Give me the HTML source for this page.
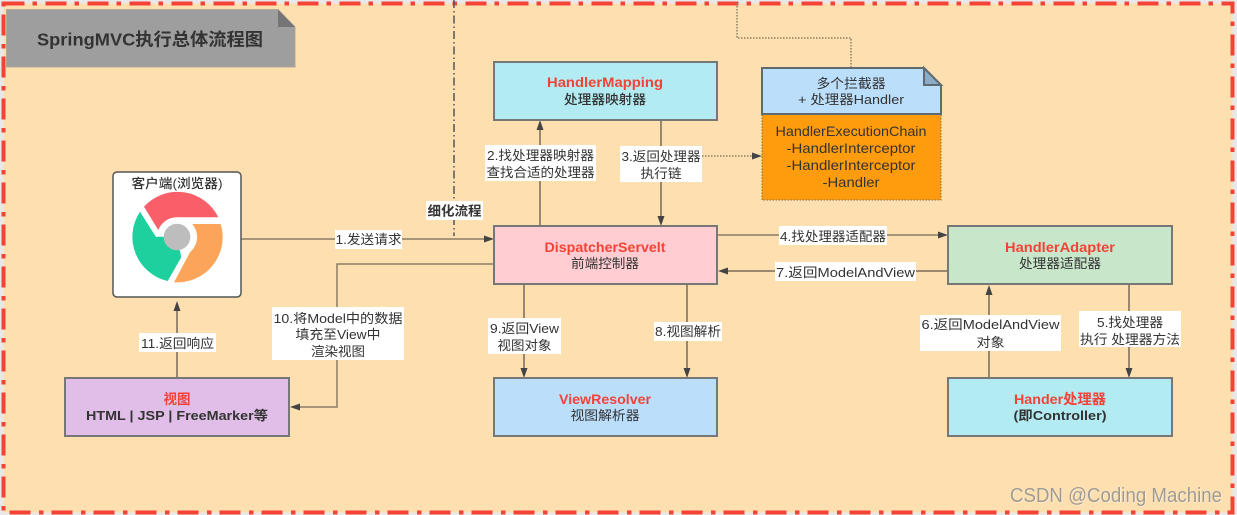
<!DOCTYPE html>
<html><head><meta charset="utf-8">
<style>
html,body{margin:0;padding:0;background:#e8e8e8;width:1237px;height:515px;overflow:hidden}
svg{display:block}
text{font-family:"Liberation Sans","Noto Sans CJK SC",sans-serif;font-size:13.3px;fill:#333;text-anchor:middle}
.b{font-weight:bold}
.r{fill:#f44336;font-weight:bold;font-size:14px}
.box{stroke:#777;stroke-width:2}
.c{stroke:#8c7d66;stroke-width:1.8;fill:none}
.bg{fill:#fff}
.a{fill:#444}
</style></head><body>
<svg width="1237" height="515" viewBox="0 0 1237 515" xmlns="http://www.w3.org/2000/svg">
<rect x="3.5" y="3.5" width="1229" height="509" fill="#fddfb0"/>
<rect x="3.5" y="3.5" width="1229" height="509" fill="none" stroke="#f44336" stroke-width="4" stroke-dasharray="21 8 4.5 8.5"/>

<!-- title note -->
<path d="M6.5,9.5H278L295,27V67H6.5Z" fill="#9e9e9e" stroke="#b0a898"/>
<path d="M278,9.5L295,27H278Z" fill="#757575"/>
<text x="150" y="45.500" class="b" style="font-size:17.7px" textLength="226" lengthAdjust="spacingAndGlyphs">SpringMVC执行总体流程图</text>

<!-- dash dot divider -->
<path d="M454,0V236" stroke="#555" stroke-width="1.5" fill="none" stroke-dasharray="8 3 1.5 3"/>
<!-- dotted top connector -->
<path d="M737,3V38H851V68" stroke="#8c7d66" stroke-width="1.5" fill="none" stroke-dasharray="1.5 1.5"/>

<!-- connectors -->
<path class="c" style="stroke-width:1.5" d="M241,239H486"/><path class="a" d="M484,235.500L494,239L484,242.500Z"/>
<path class="c" d="M540,226V128"/><path class="a" d="M540,120L543.500,130H536.500Z"/>
<path class="c" d="M661,120V218"/><path class="a" d="M661,226L657.500,216H664.500Z"/>
<path d="M702,156H754" stroke="#8c7d66" stroke-width="1.5" stroke-dasharray="1.5 1.5" fill="none"/><path class="a" d="M762,156L752,152.500V159.500Z"/>
<path class="c" style="stroke-width:1.5" d="M715,235H940"/><path class="a" d="M948,235L938,231.500V238.500Z"/>
<path class="c" d="M948,271H725"/><path class="a" d="M718,271L728,267.500V274.500Z"/>
<path class="c" style="stroke-width:1.5" d="M494,264H337V407H298"/><path class="a" d="M290,407L300,403.500V410.500Z"/>
<path class="c" d="M177,378V309"/><path class="a" d="M177,301L180.500,311H173.500Z"/>
<path class="c" d="M524,281V370"/><path class="a" d="M524,378L520.500,368H527.500Z"/>
<path class="c" d="M687,281V370"/><path class="a" d="M687,378L683.500,368H690.500Z"/>
<path class="c" d="M989,378V294"/><path class="a" d="M989,285L992.500,295H985.500Z"/>
<path class="c" d="M1129,284V370"/><path class="a" d="M1129,378L1125.500,368H1132.500Z"/>

<!-- boxes -->
<rect class="box" x="494" y="62" width="223" height="58" fill="#b2ebf2"/>
<text x="605" y="87" class="r" textLength="116" lengthAdjust="spacingAndGlyphs">HandlerMapping</text>
<text x="605" y="104" textLength="82" lengthAdjust="spacingAndGlyphs" style="font-size:13.3px;font-weight:500">处理器映射器</text>

<rect class="box" x="494" y="226" width="223" height="58" fill="#ffcdd2"/>
<text x="605" y="252" class="r" textLength="121" lengthAdjust="spacingAndGlyphs">DispatcherServelt</text>
<text x="605" y="268" textLength="68" lengthAdjust="spacingAndGlyphs">前端控制器</text>

<rect class="box" x="948" y="226" width="224" height="58" fill="#c8e6c9"/>
<text x="1060" y="252" class="r" textLength="110" lengthAdjust="spacingAndGlyphs">HandlerAdapter</text>
<text x="1060" y="268" textLength="82" lengthAdjust="spacingAndGlyphs">处理器适配器</text>

<rect class="box" x="948" y="378" width="224" height="58" fill="#b2ebf2"/>
<text x="1060" y="404" class="r" textLength="92" lengthAdjust="spacingAndGlyphs">Hander处理器</text>
<text x="1060" y="420" class="b" textLength="93" lengthAdjust="spacingAndGlyphs">(即Controller)</text>

<rect class="box" x="494" y="378" width="223" height="58" fill="#bbdefb"/>
<text x="605" y="404" class="r" textLength="92" lengthAdjust="spacingAndGlyphs">ViewResolver</text>
<text x="605" y="420" textLength="69" lengthAdjust="spacingAndGlyphs">视图解析器</text>

<rect class="box" x="65" y="378" width="224" height="58" fill="#e1bee7"/>
<text x="177" y="404" class="r" textLength="27" lengthAdjust="spacingAndGlyphs">视图</text>
<text x="177" y="420" class="b" textLength="182" lengthAdjust="spacingAndGlyphs">HTML | JSP | FreeMarker等</text>

<!-- client -->
<rect x="113" y="172" width="128" height="125" rx="4" fill="#fff" stroke="#555" stroke-width="1.5"/>
<text x="177" y="188" textLength="91" lengthAdjust="spacingAndGlyphs" style="font-weight:500">客户端(浏览器)</text>
<path d="M144,206.700A45.300,45.300 0 0 1 218.300,217.300L176.700,217.300A20,20 0 0 0 158.300,230Z" fill="#f95f69"/>
<path d="M140,211.700A45.300,45.300 0 0 0 167.700,281L181,257.700A21,21 0 0 1 155,237Z" fill="#1fd09f" style="display:none"/>
<path d="M140,211.700A45.300,45.300 0 0 0 167.700,281L181,257.700A21,21 0 0 0 156,237Z" fill="#1fd09f"/>
<path d="M192.300,224H220.700A45.300,45.300 0 0 1 174,282.300L190,252.300A20,20 0 0 0 192.300,224Z" fill="#fba55a"/>
<circle cx="177" cy="237" r="13.300" fill="#bdbdbd"/>

<!-- note stack -->
<rect x="762" y="114" width="179" height="86" fill="#ff9c0d" stroke="#7a6a50" stroke-width="1" stroke-dasharray="1.5 1.5"/>
<path d="M762,68H924L941,85V114H762Z" fill="#bbdefb" stroke="#5f6b73" stroke-width="2"/>
<path d="M924,68L941,85H924Z" fill="#8aacc8" stroke="#5f6b73" stroke-width="2"/>
<text x="851" y="88" textLength="69" lengthAdjust="spacingAndGlyphs">多个拦截器</text>
<text x="851" y="104" textLength="106" lengthAdjust="spacingAndGlyphs">+ 处理器Handler</text>
<text x="851" y="136" textLength="151" lengthAdjust="spacingAndGlyphs" style="font-size:14px">HandlerExecutionChain</text>
<text x="851" y="153" textLength="129" lengthAdjust="spacingAndGlyphs" style="font-size:14px">-HandlerInterceptor</text>
<text x="851" y="170" textLength="129" lengthAdjust="spacingAndGlyphs" style="font-size:14px">-HandlerInterceptor</text>
<text x="851" y="187" textLength="57" lengthAdjust="spacingAndGlyphs" style="font-size:14px">-Handler</text>

<!-- labels -->
<rect class="bg" x="335" y="230" width="67" height="19"/>
<text x="368.500" y="244" textLength="66" lengthAdjust="spacingAndGlyphs">1.发送请求</text>

<rect class="bg" x="426" y="201" width="57" height="19"/>
<text x="454.500" y="215.500" class="b" textLength="54" lengthAdjust="spacingAndGlyphs">细化流程</text>

<rect class="bg" x="485" y="145" width="111" height="36"/>
<text x="540.500" y="160" textLength="107" lengthAdjust="spacingAndGlyphs">2.找处理器映射器</text>
<text x="540.500" y="177" textLength="108" lengthAdjust="spacingAndGlyphs">查找合适的处理器</text>

<rect class="bg" x="620" y="146" width="82" height="36"/>
<text x="661" y="161" textLength="79" lengthAdjust="spacingAndGlyphs">3.返回处理器</text>
<text x="661" y="178" textLength="41" lengthAdjust="spacingAndGlyphs">执行链</text>

<rect class="bg" x="779" y="226" width="108" height="19"/>
<text x="833" y="241" textLength="106" lengthAdjust="spacingAndGlyphs">4.找处理器适配器</text>

<rect class="bg" x="775" y="262" width="141" height="19"/>
<text x="845.500" y="277" textLength="139" lengthAdjust="spacingAndGlyphs">7.返回ModelAndView</text>

<rect class="bg" x="272" y="307" width="132" height="53"/>
<text x="338" y="323" textLength="129" lengthAdjust="spacingAndGlyphs">10.将Model中的数据</text>
<text x="338" y="339" textLength="85" lengthAdjust="spacingAndGlyphs">填充至View中</text>
<text x="338" y="356" textLength="54" lengthAdjust="spacingAndGlyphs">渲染视图</text>

<rect class="bg" x="139" y="333" width="77" height="19"/>
<text x="177.500" y="348" textLength="73" lengthAdjust="spacingAndGlyphs">11.返回响应</text>

<rect class="bg" x="488" y="318" width="73" height="36"/>
<text x="524.500" y="333" textLength="69" lengthAdjust="spacingAndGlyphs">9.返回View</text>
<text x="524.500" y="350" textLength="54" lengthAdjust="spacingAndGlyphs">视图对象</text>

<rect class="bg" x="654" y="322" width="68" height="19"/>
<text x="688" y="336" textLength="66" lengthAdjust="spacingAndGlyphs">8.视图解析</text>

<rect class="bg" x="920" y="315" width="141" height="36"/>
<text x="990.500" y="329" textLength="138" lengthAdjust="spacingAndGlyphs">6.返回ModelAndView</text>
<text x="990.500" y="347" textLength="28" lengthAdjust="spacingAndGlyphs">对象</text>

<rect class="bg" x="1079" y="311" width="102" height="36"/>
<text x="1130" y="327" textLength="66" lengthAdjust="spacingAndGlyphs">5.找处理器</text>
<text x="1130" y="344" textLength="100" lengthAdjust="spacingAndGlyphs">执行 处理器方法</text>

<!-- watermark -->
<text x="1116.700" y="502.700" textLength="212" lengthAdjust="spacingAndGlyphs" style="font-size:20px;fill:#fff4e2">CSDN @Coding Machine</text>
<text x="1116" y="502" textLength="212" lengthAdjust="spacingAndGlyphs" style="font-size:20px;fill:#a09b92">CSDN @Coding Machine</text>
</svg>
</body></html>
